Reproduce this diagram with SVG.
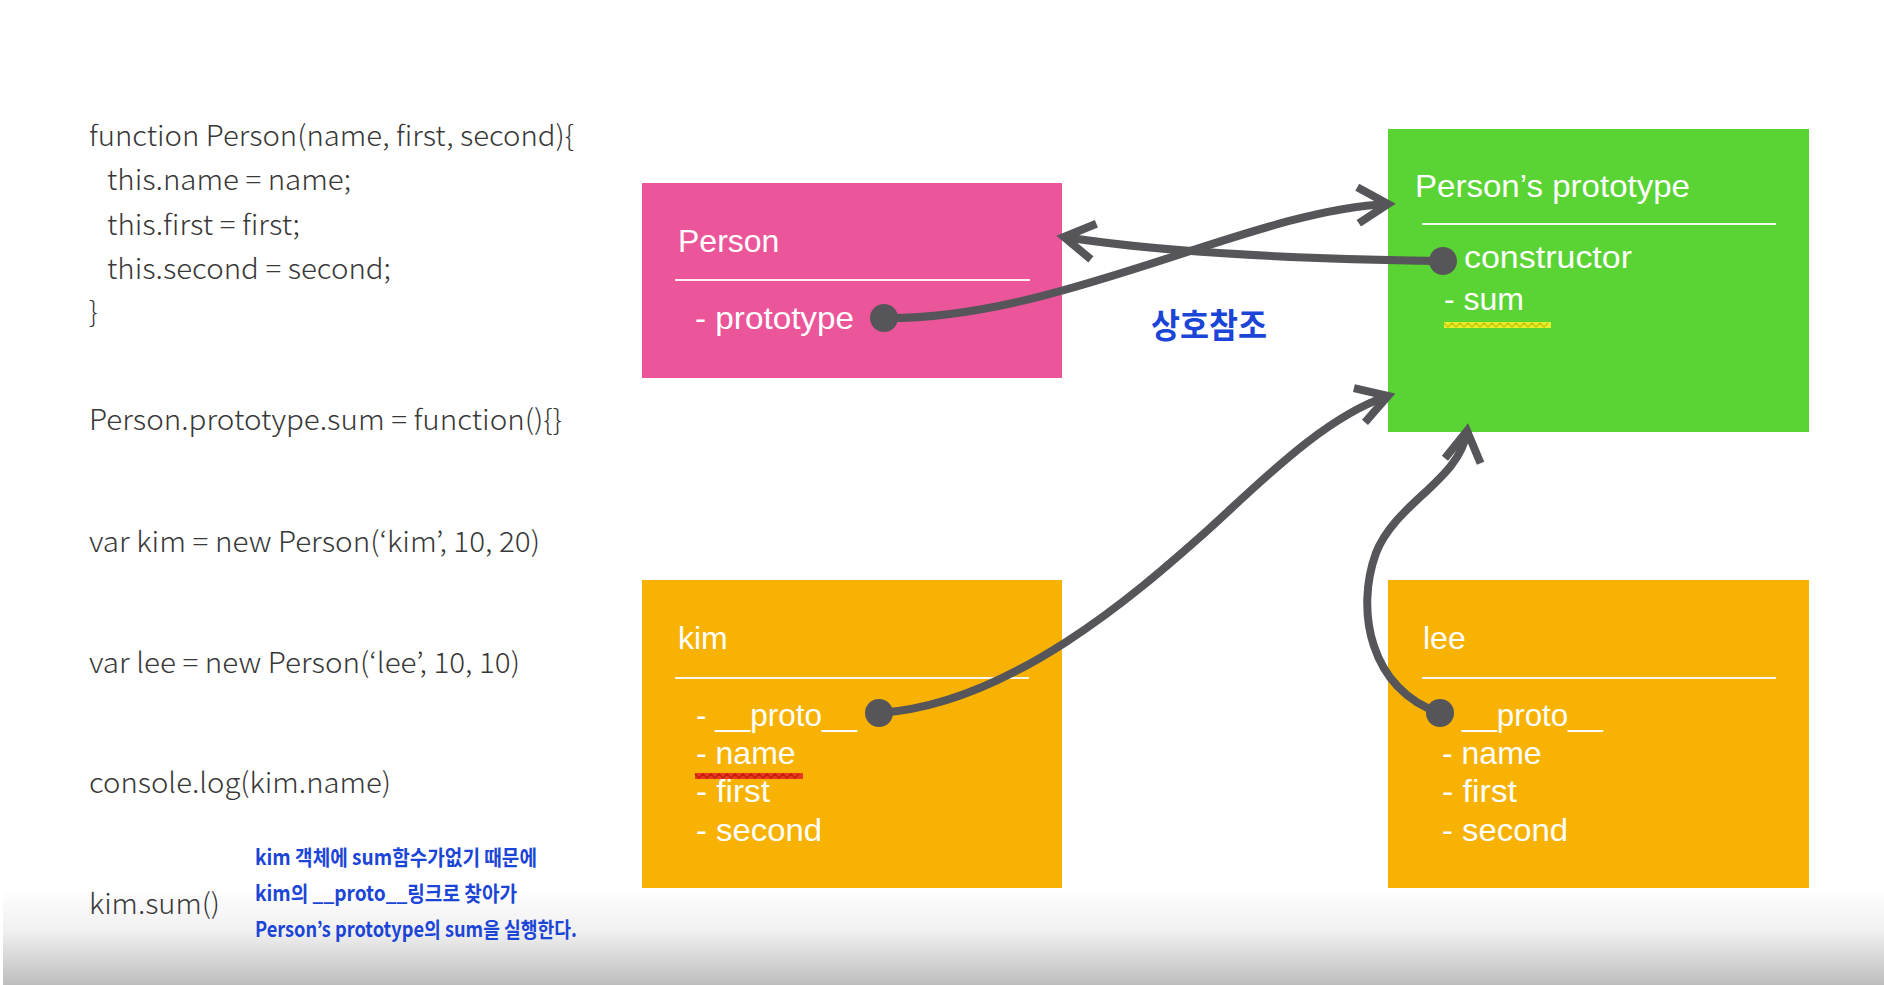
<svg xmlns="http://www.w3.org/2000/svg" width="1884" height="985" viewBox="0 0 1884 985">
  <style>
    .code { font-family: "Noto Sans CJK KR", "Open Sans", "Liberation Sans", sans-serif; font-weight: 300; font-size: 28px; fill: #383838; }
    .note { font-family: "Noto Sans CJK KR", "Noto Sans", sans-serif; font-weight: 700; font-size: 21px; fill: #1b45d6; }
    .label { font-family: "Liberation Sans", Arial, sans-serif; font-size: 32px; fill: #ffffff; }
    .divider { stroke: #ffffff; stroke-width: 2; opacity: 0.9; }
    .link { fill: none; stroke: #56565a; stroke-width: 8; stroke-linecap: butt; }
    .dot { fill: #56565a; }
  </style>
  <defs>
    <marker id="open-arrow" markerUnits="userSpaceOnUse" markerWidth="80" markerHeight="80" viewBox="-40 -40 80 80" refX="0" refY="0" orient="auto" overflow="visible">
      <path d="M -30 -18 L 0 0 L -30 18" fill="none" stroke="#56565a" stroke-width="8" stroke-linejoin="miter"/>
    </marker>
    <linearGradient id="fade" x1="0" y1="0" x2="0" y2="1">
      <stop offset="0" stop-color="#ffffff"/>
      <stop offset="0.45" stop-color="#f0f0f0"/>
      <stop offset="1" stop-color="#bdbdbd"/>
    </linearGradient>
  </defs>

  <rect x="0" y="0" width="1884" height="985" fill="#ffffff"/>
  <rect x="3" y="888" width="1881" height="97" fill="url(#fade)"/>

  <!-- source code listing -->
  <g id="code">
    <text class="code" x="89" y="146" textLength="485" lengthAdjust="spacingAndGlyphs">function Person(name, first, second){</text>
    <text class="code" x="107" y="190" textLength="244" lengthAdjust="spacingAndGlyphs">this.name = name;</text>
    <text class="code" x="107" y="235" textLength="193" lengthAdjust="spacingAndGlyphs">this.first = first;</text>
    <text class="code" x="107" y="279" textLength="284" lengthAdjust="spacingAndGlyphs">this.second = second;</text>
    <text class="code" x="89" y="322">}</text>
    <text class="code" x="89" y="430" textLength="473" lengthAdjust="spacingAndGlyphs">Person.prototype.sum = function(){}</text>
    <text class="code" x="89" y="552" textLength="451" lengthAdjust="spacingAndGlyphs">var kim = new Person(‘kim’, 10, 20)</text>
    <text class="code" x="89" y="673" textLength="431" lengthAdjust="spacingAndGlyphs">var lee = new Person(‘lee’, 10, 10)</text>
    <text class="code" x="89" y="793" textLength="302" lengthAdjust="spacingAndGlyphs">console.log(kim.name)</text>
    <text class="code" x="89" y="914" textLength="131" lengthAdjust="spacingAndGlyphs">kim.sum()</text>
  </g>

  <g id="note">
    <text class="note" x="255" y="865" textLength="282" lengthAdjust="spacingAndGlyphs">kim 객체에 sum함수가없기 때문에</text>
    <text class="note" x="255" y="901" textLength="262" lengthAdjust="spacingAndGlyphs">kim의 __proto__링크로 찾아가</text>
    <text class="note" x="255" y="937" textLength="322" lengthAdjust="spacingAndGlyphs">Person’s prototype의 sum을 실행한다.</text>
  </g>

  <!-- Person constructor -->
  <g id="person">
    <rect x="642" y="183" width="420" height="195" fill="#eb5599"/>
    <text class="label" x="678" y="252">Person</text>
    <line class="divider" x1="675" y1="280" x2="1030" y2="280"/>
    <text class="label" x="695" y="329" textLength="159" lengthAdjust="spacingAndGlyphs">- prototype</text>
  </g>

  <!-- Person's prototype object -->
  <g id="person-prototype">
    <rect x="1388" y="129" width="421" height="303" fill="#5ad334"/>
    <text class="label" x="1415" y="197" textLength="275" lengthAdjust="spacingAndGlyphs">Person’s prototype</text>
    <line class="divider" x1="1422" y1="224" x2="1776" y2="224"/>
    <text class="label" x="1464" y="268" textLength="168" lengthAdjust="spacingAndGlyphs">constructor</text>
    <text class="label" x="1444" y="310">- sum</text>
    <path d="M 1444 325 L 1551 325" stroke="#e4ef2c" stroke-width="6" fill="none"/>
    <path d="M 1444 323 l 4 4 l 4 -4 l 4 4 l 4 -4 l 4 4 l 4 -4 l 4 4 l 4 -4 l 4 4 l 4 -4 l 4 4 l 4 -4 l 4 4 l 4 -4 l 4 4 l 4 -4 l 4 4 l 4 -4 l 4 4 l 4 -4 l 4 4 l 4 -4 l 4 4 l 4 -4 l 4 4 l 4 -4" stroke="#c9c70c" stroke-width="1.5" fill="none"/>
  </g>

  <!-- kim instance -->
  <g id="kim">
    <rect x="642" y="580" width="420" height="308" fill="#f7b204"/>
    <text class="label" x="678" y="649">kim</text>
    <line class="divider" x1="675" y1="678" x2="1029" y2="678"/>
    <text class="label" x="696" y="726" textLength="161" lengthAdjust="spacingAndGlyphs">- __proto__</text>
    <text class="label" x="696" y="764">- name</text>
    <text class="label" x="696" y="802" textLength="74" lengthAdjust="spacingAndGlyphs">- first</text>
    <text class="label" x="696" y="841" textLength="126" lengthAdjust="spacingAndGlyphs">- second</text>
    <path d="M 695 776 L 803 776" stroke="#e8381e" stroke-width="6" fill="none"/>
    <path d="M 695 774 l 4 4 l 4 -4 l 4 4 l 4 -4 l 4 4 l 4 -4 l 4 4 l 4 -4 l 4 4 l 4 -4 l 4 4 l 4 -4 l 4 4 l 4 -4 l 4 4 l 4 -4 l 4 4 l 4 -4 l 4 4 l 4 -4 l 4 4 l 4 -4 l 4 4 l 4 -4 l 4 4 l 4 -4" stroke="#c21f10" stroke-width="1.5" fill="none"/>
  </g>

  <!-- lee instance -->
  <g id="lee">
    <rect x="1388" y="580" width="421" height="308" fill="#f7b204"/>
    <text class="label" x="1423" y="649">lee</text>
    <line class="divider" x1="1422" y1="678" x2="1776" y2="678"/>
    <text class="label" x="1462" y="726" textLength="141" lengthAdjust="spacingAndGlyphs">__proto__</text>
    <text class="label" x="1442" y="764">- name</text>
    <text class="label" x="1442" y="802" textLength="75" lengthAdjust="spacingAndGlyphs">- first</text>
    <text class="label" x="1442" y="841" textLength="126" lengthAdjust="spacingAndGlyphs">- second</text>
  </g>

  <g id="mutual-label">
    <text x="1151" y="338" textLength="116" lengthAdjust="spacingAndGlyphs" font-family="'Noto Sans CJK KR', sans-serif" font-weight="700" font-size="34" fill="#1b45d6">상호참조</text>
  </g>

  <!-- references between objects -->
  <g id="connectors">
    <path class="link" d="M 884 318 C 1060 320, 1250 210, 1388 204" marker-end="url(#open-arrow)"/>
    <path class="link" d="M 1443 261 Q 1200 258 1064 237" marker-end="url(#open-arrow)"/>
    <path class="link" d="M 879 713 C 1010 705, 1140 590, 1200 537 C 1250 493, 1320 418, 1388 396" marker-end="url(#open-arrow)"/>
    <path class="link" d="M 1440 713 C 1370 690, 1355 610, 1376 553 C 1395 503, 1460 480, 1467 431" marker-end="url(#open-arrow)"/>
    <circle class="dot" cx="884" cy="318" r="14"/>
    <circle class="dot" cx="1443" cy="261" r="14"/>
    <circle class="dot" cx="879" cy="713" r="14"/>
    <circle class="dot" cx="1440" cy="713" r="14"/>
  </g>
</svg>
